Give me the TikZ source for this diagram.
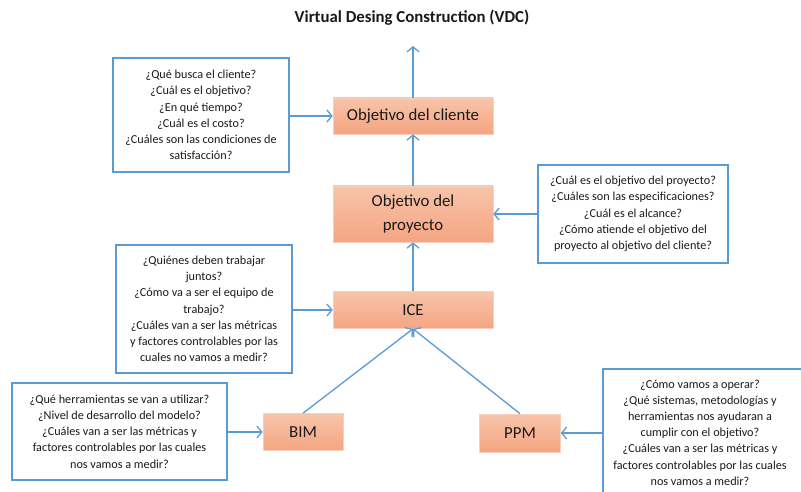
\documentclass[tikz,border=0pt]{standalone}
\usepackage{fontspec}
\setmainfont{Carlito}
\usetikzlibrary{arrows.meta}
\definecolor{lineblue}{HTML}{5B9BD5}
\definecolor{otop}{HTML}{F8C4AA}
\definecolor{obot}{HTML}{F4A582}
\definecolor{oedge}{HTML}{F9CFBB}
\definecolor{txt}{HTML}{1A1A1A}
\begin{document}
\begin{tikzpicture}[x=1pt,y=-1pt,
  qtext/.style={align=center, font=\fontsize{12.2}{16.2}\selectfont, text=txt, inner sep=0pt, rectangle},
  qbox/.style={qtext, draw=lineblue, line width=1.4pt, fill=white},
  obox/.style={top color=otop, bottom color=obot, draw=oedge, line width=0.6pt,
    align=center, font=\fontsize{16.8}{24}\selectfont, text=txt, inner sep=0pt, rectangle},
  conn/.style={draw=lineblue, line width=1.3pt, -{Straight Barb[length=5pt,width=12pt]}}]
\useasboundingbox (0,0) rectangle (801,492);
\clip (0,0) rectangle (801,492);
\fill[white] (0,0) rectangle (801,492);

\node[font=\bfseries\fontsize{16.8}{20}\selectfont, text=txt] (title) at (412,18) {Virtual Desing Construction (VDC)};
\coordinate (topend) at (413,46);

\node[obox, minimum width=160pt, minimum height=36pt] (cliente) at (413,116) {Objetivo del cliente};
\node[obox, minimum width=160pt, minimum height=56pt] (proyecto) at (413,214) {Objetivo del\\proyecto};
\node[obox, minimum width=160pt, minimum height=37pt] (ice) at (413,310) {ICE};
\node[obox, minimum width=80pt, minimum height=37pt] (bim) at (303,432) {BIM};
\node[obox, minimum width=81pt, minimum height=38pt] (ppm) at (520,433) {PPM};

\node[qbox, minimum width=176pt, minimum height=114pt] (q1) at (201,115)
  {¿Qué busca el cliente?\\¿Cuál es el objetivo?\\¿En qué tiempo?\\¿Cuál es el costo?\\¿Cuáles son las condiciones de\\satisfacción?};
\node[qbox, minimum width=190pt, minimum height=98pt] (q2) at (633,214)
  {¿Cuál es el objetivo del proyecto?\\¿Cuáles son las especificaciones?\\¿Cuál es el alcance?\\¿Cómo atiende el objetivo del\\proyecto al objetivo del cliente?};
\node[qbox, minimum width=176pt, minimum height=128pt] (q3) at (204,309)
  {¿Quiénes deben trabajar\\juntos?\\¿Cómo va a ser el equipo de\\trabajo?\\¿Cuáles van a ser las métricas\\y factores controlables por las\\cuales no vamos a medir?};
\node[qbox, minimum width=215pt, minimum height=97pt] (q4) at (119.5,431.5)
  {¿Qué herramientas se van a utilizar?\\¿Nivel de desarrollo del modelo?\\¿Cuáles van a ser las métricas y\\factores controlables por las cuales\\nos vamos a medir?};
\node[qtext, minimum width=194pt, minimum height=127pt] (q5) at (700,432.5)
  {¿Cómo vamos a operar?\\¿Qué sistemas, metodologías y\\herramientas nos ayudaran a\\cumplir con el objetivo?\\¿Cuáles van a ser las métricas y\\factores controlables por las cuales\\nos vamos a medir?};
\draw[draw=lineblue, line width=1.4pt] (q5.south west) -- (q5.north west) -- ([xshift=12pt]q5.north east);

\draw[conn] (cliente.north) -- (topend);
\draw[conn] (q1.east |- cliente.west) -- (cliente.west);
\draw[conn] (proyecto.north) -- (cliente.south);
\draw[conn] (q2.west |- proyecto.east) -- (proyecto.east);
\draw[conn] (ice.north) -- (proyecto.south);
\draw[conn] (q3.east |- ice.west) -- (ice.west);
\draw[conn] (bim.north) -- (ice.south);
\draw[conn] (ppm.north) -- (ice.south);
\draw[conn] (q4.east |- bim.west) -- (bim.west);
\draw[conn] (q5.west |- ppm.east) -- (ppm.east);
\end{tikzpicture}
\end{document}
